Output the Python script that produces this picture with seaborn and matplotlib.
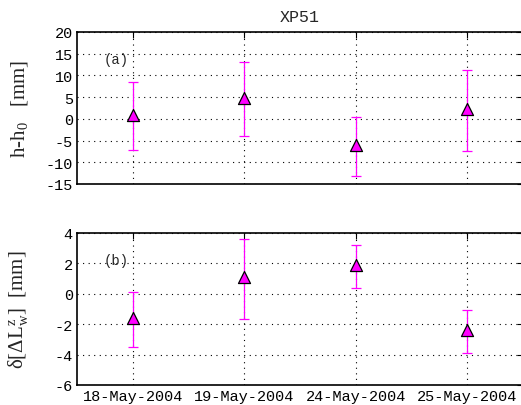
import numpy as np
import pandas as pd
import matplotlib
matplotlib.use("Agg")
import matplotlib.pyplot as plt
import seaborn as sns

# ---- data ----
dates = ["18-May-2004", "19-May-2004", "24-May-2004", "25-May-2004"]
h_val = [0.95, 4.8, -6.0, 2.2]
h_low = [-7.1, -4.0, -13.2, -7.5]
h_high = [8.5, 13.1, 0.4, 11.15]
dL_val = [-1.6, 1.1, 1.87, -2.37]
dL_low = [-3.5, -1.63, 0.39, -3.88]
dL_high = [0.13, 3.6, 3.24, -1.05]
title = "XP51"

sns.set_style("white")
plt.rcParams["font.family"] = ["Liberation Mono", "DejaVu Sans Mono"]
plt.rcParams["axes.unicode_minus"] = False
plt.rcParams["mathtext.fontset"] = "custom"
plt.rcParams["mathtext.rm"] = "Liberation Serif"
plt.rcParams["mathtext.it"] = "Liberation Serif:italic"

fig = plt.figure(figsize=(5.21, 4.06), dpi=100)
ax1 = fig.add_axes([77/521, (406-185)/406, 446/521, 152/406])
ax2 = fig.add_axes([77/521, (406-386)/406, 446/521, 152/406])

pos = np.arange(1, len(dates) + 1)

def panel(ax, vals, lows, highs, ylim, yticks, letter):
    df = pd.DataFrame({"pos": pos, "val": vals, "low": lows, "high": highs})
    ax.errorbar(df["pos"], df["val"],
                yerr=[df["val"] - df["low"], df["high"] - df["val"]],
                fmt="none", ecolor="#ff00ff", elinewidth=0.9, capsize=3.5,
                capthick=0.9, zorder=3)
    sns.scatterplot(data=df, x="pos", y="val", ax=ax, marker="^", s=75,
                    color="#ff00ff", edgecolor="black", linewidth=0.9,
                    zorder=4, legend=False)
    ax.set_xlim(0.5, len(dates) + 0.5)
    ax.set_ylim(*ylim)
    ax.set_yticks(yticks)
    ax.set_xticks(pos)
    ax.grid(True, color="black", linestyle=(0, (1, 4)), linewidth=0.8)
    ax.set_axisbelow(True)
    for sp in ax.spines.values():
        sp.set_visible(True)
        sp.set_color("black")
        sp.set_linewidth(1.2)
    ax.tick_params(direction="in", length=4, width=0.8, top=True, right=True,
                   labelsize=11, colors="black", pad=3)
    ax.set_xlabel("")
    ax.text(0.06, 0.82, letter, transform=ax.transAxes, fontsize=10,
            va="center", ha="left", family="Liberation Mono")

panel(ax1, h_val, h_low, h_high, (-15, 20), np.arange(-15, 21, 5), "(a)")
panel(ax2, dL_val, dL_low, dL_high, (-6, 4), np.arange(-6, 5, 2), "(b)")

ax1.set_xticklabels([])
ax2.set_xticklabels(dates)
ax1.set_title(title, fontsize=12, pad=8, family="Liberation Mono")

ax1.set_ylabel(r"h-h$_\mathregular{0}$   [mm]", fontsize=15,
               family="Liberation Serif")
ax2.set_ylabel(r"δ[ΔL$^\mathregular{z}_\mathregular{w}$]  [mm]", fontsize=15,
               family="Liberation Serif")
ax1.yaxis.set_label_coords(-0.105, 0.5)
ax2.yaxis.set_label_coords(-0.105, 0.5)

fig.savefig("out.png", dpi=100)
